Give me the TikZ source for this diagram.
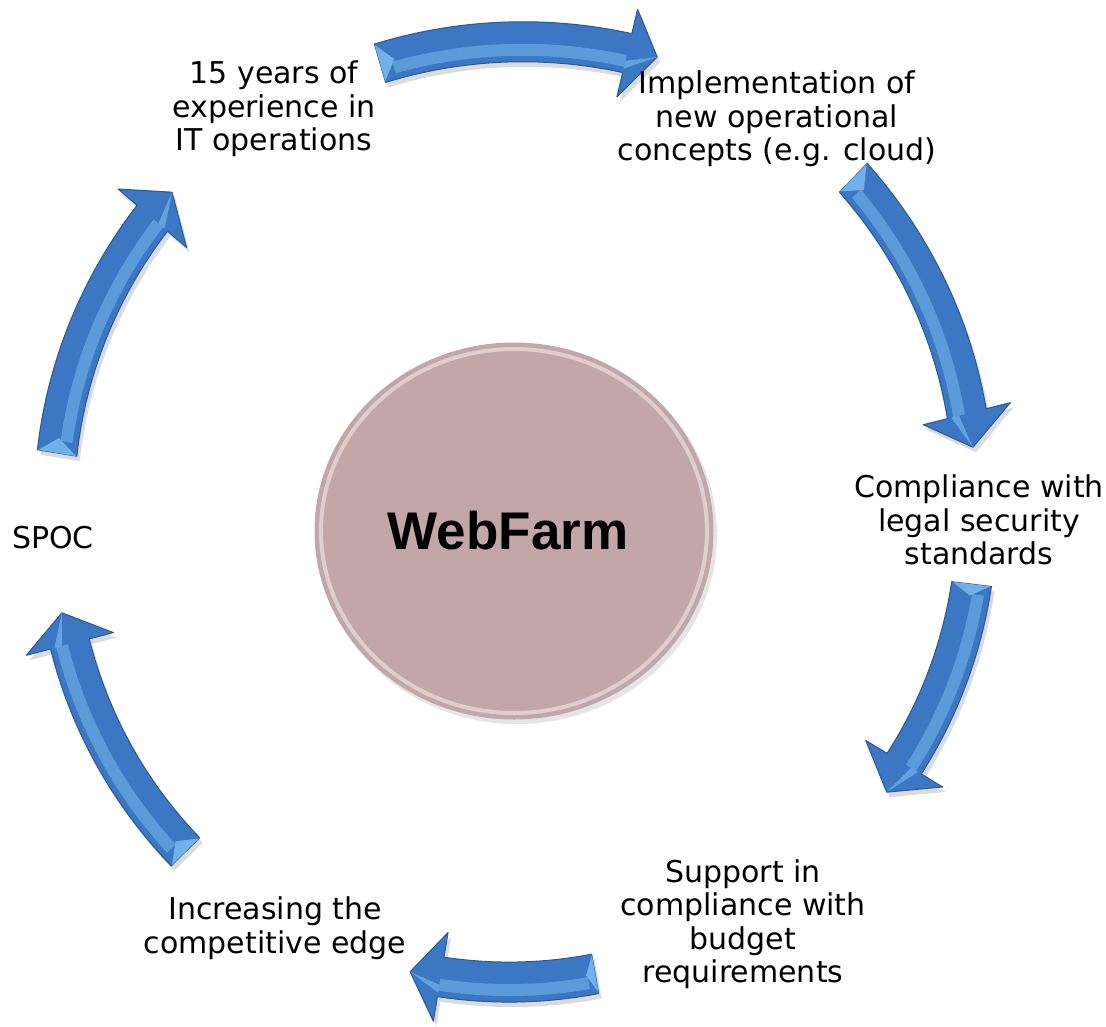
\documentclass[tikz,border=0pt]{standalone}
\usepackage{fontspec}
\setmainfont{DejaVu Sans}
\newfontfamily\titlefont{Liberation Sans}
\usetikzlibrary{shapes.geometric}
\definecolor{arrowmain}{HTML}{3B77C2}
\definecolor{arrowdark}{HTML}{285A98}
\definecolor{arrowlight}{HTML}{7CC0F2}
\definecolor{disc}{HTML}{C3A6A8}
\definecolor{discedge}{HTML}{BFA9AB}
\tikzset{
  label text/.style={font=\fontsize{30}{33.5}\selectfont, align=center, text=black, inner sep=0pt},
  arrowbody/.style={fill=arrowmain, draw=arrowdark, line width=1pt, line join=round},
  arrowshadow/.style={fill=black, opacity=0.14},
  arrowshine/.style={fill=arrowlight, opacity=0.5},
  arrowbevel/.style={fill=arrowlight, opacity=0.8},
}
% #1 tail angle, #2 tail radius, #3 head-base angle, #4 head-base radius,
% #5 tip angle, #6 tip radius, #7 highlight offset
\newcommand\cyclearrow[7]{%
  \begin{scope}[shift={(3,5)}]
  \fill[arrowshadow]
    plot[domain=0:1, samples=40, variable=\t]
      ({515+((#2)+((#4)-(#2))*\t+20)*cos((#1)+((#3)-(#1))*\t)},
       {528-((#2)+((#4)-(#2))*\t+20)*sin((#1)+((#3)-(#1))*\t)})
    -- ({515+((#4)+45)*cos(#3)},{528-((#4)+45)*sin(#3)})
    -- ({515+(#6)*cos(#5)},{528-(#6)*sin(#5)})
    -- ({515+((#4)-45)*cos(#3)},{528-((#4)-45)*sin(#3)})
    -- plot[domain=0:1, samples=40, variable=\t]
      ({515+((#4)+((#2)-(#4))*\t-20)*cos((#3)+((#1)-(#3))*\t)},
       {528-((#4)+((#2)-(#4))*\t-20)*sin((#3)+((#1)-(#3))*\t)})
    -- cycle;
  \end{scope}
  \filldraw[arrowbody]
    plot[domain=0:1, samples=40, variable=\t]
      ({515+((#2)+((#4)-(#2))*\t+20)*cos((#1)+((#3)-(#1))*\t)},
       {528-((#2)+((#4)-(#2))*\t+20)*sin((#1)+((#3)-(#1))*\t)})
    -- ({515+((#4)+45)*cos(#3)},{528-((#4)+45)*sin(#3)})
    -- ({515+(#6)*cos(#5)},{528-(#6)*sin(#5)})
    -- ({515+((#4)-45)*cos(#3)},{528-((#4)-45)*sin(#3)})
    -- plot[domain=0:1, samples=40, variable=\t]
      ({515+((#4)+((#2)-(#4))*\t-20)*cos((#3)+((#1)-(#3))*\t)},
       {528-((#4)+((#2)-(#4))*\t-20)*sin((#3)+((#1)-(#3))*\t)})
    -- cycle;
  % highlight band
  \fill[arrowshine]
    plot[domain=0.05:1, samples=40, variable=\t]
      ({515+((#2)+((#4)-(#2))*\t+(#7)+6)*cos((#1)+((#3)-(#1))*\t)},
       {528-((#2)+((#4)-(#2))*\t+(#7)+6)*sin((#1)+((#3)-(#1))*\t)})
    -- plot[domain=0:0.95, samples=40, variable=\t]
      ({515+((#4)+((#2)-(#4))*\t+(#7)-6)*cos((#3)+((#1)-(#3))*\t)},
       {528-((#4)+((#2)-(#4))*\t+(#7)-6)*sin((#3)+((#1)-(#3))*\t)})
    -- cycle;
  % tail bevel
  \fill[arrowbevel]
    ({515+((#2)+19)*cos(#1)},{528-((#2)+19)*sin(#1)})
    -- ({515+((#2)-19)*cos(#1)},{528-((#2)-19)*sin(#1)})
    -- ({515+((#2)+((#4)-(#2))*0.06)*cos((#1)+((#3)-(#1))*0.06)},
        {528-((#2)+((#4)-(#2))*0.06)*sin((#1)+((#3)-(#1))*0.06)})
    -- cycle;
  % head bevel near tip
  \fill[arrowbevel, opacity=0.6]
    ({515+(#6)*cos(#5)},{528-(#6)*sin(#5)})
    -- ({515+((#4)+(#7))*cos(#3)},{528-((#4)+(#7))*sin(#3)})
    -- ({515+((#4)+2*(#7))*cos(#3)},{528-((#4)+2*(#7))*sin(#3)})
    -- cycle;
}
\begin{document}
\begin{tikzpicture}[x=1pt, y=-1pt]
\useasboundingbox (0,0) rectangle (1106,1026);
\fill[white] (0,0) rectangle (1106,1026);

% arrows
\cyclearrow{106.2}{484}{76.7}{488}{73.2}{492}{-8}
\cyclearrow{46.0}{487}{14.2}{466}{10.0}{465}{-8}
\cyclearrow{-7.0}{460}{-31.2}{455}{-35.4}{456}{8}
\cyclearrow{-79.8}{453}{-99.4}{455}{-103.3}{456}{8}
\cyclearrow{224.5}{462}{194.6}{460}{190.6}{461}{8}
\cyclearrow{170.7}{464}{139.5}{477}{135.6}{480}{-8}

% central disc
\fill[black, opacity=0.10] (517,535) ellipse [x radius=200, y radius=189];
\node (hub) [ellipse, minimum width=398pt, minimum height=376pt, fill=disc, draw=discedge, line width=1pt, inner sep=0pt] at (514,531) {};
\draw[white, opacity=0.45, line width=4pt] (514,531) ellipse [x radius=193, y radius=182];
\node (title) at (508,531) {\titlefont\bfseries\fontsize{53}{60}\selectfont WebFarm};

% labels
\node[label text] (exp) at (274,109) {15 years of\\experience in\\IT operations};
\node[label text] (impl) at (777,119) {Implementation of\\new operational\\concepts (e.g. cloud)};
\node[label text] (comp) at (979,520) {Compliance with\\legal security\\standards};
\node[label text] (supp) at (743,924) {Support in\\compliance with\\budget\\requirements};
\node[label text] (incr) at (275,928) {Increasing the\\competitive edge};
\node[label text] (spoc) at (53,538) {SPOC};
\end{tikzpicture}
\end{document}
